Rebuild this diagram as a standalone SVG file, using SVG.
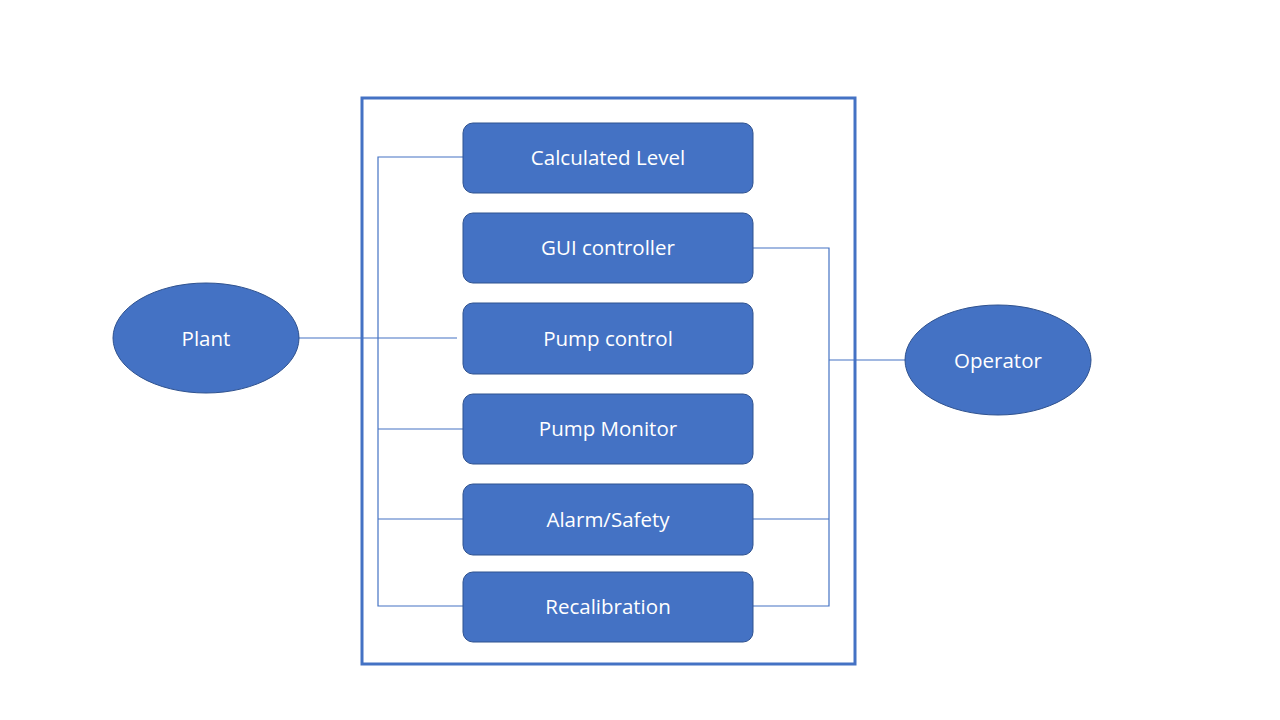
<svg xmlns="http://www.w3.org/2000/svg" width="1280" height="720" viewBox="0 0 1280 720">
<style>
.box{fill:#4472C4;stroke:#2F528F;stroke-width:1}
.lbl{fill:#ffffff;font-family:"Open Sans","Noto Sans","Liberation Sans",sans-serif;font-size:20.5px;text-anchor:middle;dominant-baseline:central}
.con{fill:none;stroke:#4472C4;stroke-width:1.2}
</style>
<rect width="1280" height="720" fill="#ffffff"/>
<rect id="container" x="362" y="98" width="493" height="566" fill="none" stroke="#4472C4" stroke-width="3"/>
<g id="connectors">
<polyline class="con" points="463,157 378,157 378,606 463,606"/>
<line class="con" x1="378" y1="429" x2="463" y2="429"/>
<line class="con" x1="378" y1="519" x2="463" y2="519"/>
<line class="con" x1="298" y1="338" x2="457" y2="338"/>
<polyline class="con" points="753,248 829,248 829,606 753,606"/>
<line class="con" x1="753" y1="519" x2="829" y2="519"/>
<line class="con" x1="829" y1="360" x2="905" y2="360"/>
</g>
<g id="plant"><ellipse class="box" cx="206" cy="338" rx="93" ry="55"/><text class="lbl" x="206" y="338">Plant</text></g>
<g id="operator"><ellipse class="box" cx="998" cy="360" rx="93" ry="55"/><text class="lbl" x="998" y="360">Operator</text></g>
<g id="calculated-level"><rect class="box" x="463" y="123" width="290" height="70" rx="10"/><text class="lbl" x="608" y="157">Calculated Level</text></g>
<g id="gui-controller"><rect class="box" x="463" y="213" width="290" height="70" rx="10"/><text class="lbl" x="608" y="247">GUI controller</text></g>
<g id="pump-control"><rect class="box" x="463" y="303" width="290" height="71" rx="10"/><text class="lbl" x="608" y="338">Pump control</text></g>
<g id="pump-monitor"><rect class="box" x="463" y="394" width="290" height="70" rx="10"/><text class="lbl" x="608" y="428">Pump Monitor</text></g>
<g id="alarm-safety"><rect class="box" x="463" y="484" width="290" height="71" rx="10"/><text class="lbl" x="608" y="519">Alarm/Safety</text></g>
<g id="recalibration"><rect class="box" x="463" y="572" width="290" height="70" rx="10"/><text class="lbl" x="608" y="606">Recalibration</text></g>
</svg>
